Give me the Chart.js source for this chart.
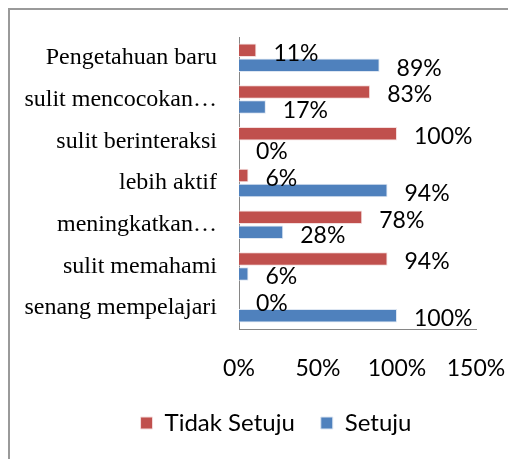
<!DOCTYPE html>
<html>
<head>
<meta charset="utf-8">
<script src="https://cdn.jsdelivr.net/npm/chart.js@4"></script>
<style>
  body { margin: 0; background: #fff; }
  #frame { position: absolute; left: 8px; top: 8px; width: 540px; height: 480px; border: 2px solid #9a9a9a; }
  #wrap { position: absolute; left: 0; top: 0; width: 508px; height: 459px; }
</style>
</head>
<body>
<div id="frame"></div>
<div id="wrap"><canvas id="chart"></canvas></div>
<script>
"use strict";
const categories = ["Pengetahuan baru", "sulit mencocokan…", "sulit berinteraksi", "lebih aktif",
    "meningkatkan…", "sulit memahami", "senang mempelajari"];
const tidakSetuju = [0.11, 0.83, 1.00, 0.06, 0.78, 0.94, 0.00];
const setuju = [0.89, 0.17, 0.00, 0.94, 0.28, 0.06, 1.00];
const xTicks = [0, 0.5, 1, 1.5];

const sansFont = "Lato, 'Liberation Sans', sans-serif";
const serifFont = "'Liberation Serif', 'DejaVu Serif', serif";

function pct(v) {
    return Math.round(v * 100) + "%";
}

// draws the value text next to each bar end
const valueLabels = {
    id: "valueLabels",
    afterDatasetsDraw(chart) {
        const ctx = chart.ctx;
        ctx.save();
        ctx.font = "23px " + sansFont;
        ctx.fillStyle = "#000";
        ctx.textAlign = "left";
        ctx.textBaseline = "middle";
        chart.data.datasets.forEach((ds, i) => {
            const meta = chart.getDatasetMeta(i);
            meta.data.forEach((bar, j) => {
                ctx.fillText(pct(ds.data[j]), bar.x + 17, bar.y + 3);
            });
        });
        ctx.restore();
    }
};

// the legend in the original sits a bit right of the canvas centre
const legendShift = {
    id: "legendShift",
    afterLayout(chart) {
        if (chart.legend) {
            chart.legend.left += 38;
            chart.legend.right += 38;
        }
    }
};

const ctx = document.getElementById("chart").getContext("2d");
const chart = new Chart(ctx, {
    type: "bar",
    data: {
        labels: categories,
        datasets: [{
            label: "Tidak Setuju",
            data: tidakSetuju,
            backgroundColor: "#C0504D",
            borderColor: "#f4dede",
            borderWidth: 1,
            barPercentage: 0.9,
            categoryPercentage: 0.72
        }, {
            label: "Setuju",
            data: setuju,
            backgroundColor: "#4F81BD",
            borderColor: "#dde6f2",
            borderWidth: 1,
            barPercentage: 0.9,
            categoryPercentage: 0.72
        }]
    },
    options: {
        indexAxis: "y",
        responsive: true,
        maintainAspectRatio: false,
        animation: false,
        layout: { padding: { left: 0, right: 32, top: 37, bottom: 14 } },
        plugins: {
            legend: {
                position: "bottom",
                labels: {
                    font: { family: sansFont, size: 24 },
                    color: "#000",
                    boxWidth: 12,
                    boxHeight: 12,
                    padding: 26
                }
            },
            tooltip: { enabled: false }
        },
        scales: {
            x: {
                min: 0,
                max: 1.5,
                afterBuildTicks: (axis) => axis.ticks = xTicks.map(v => ({ value: v })),
                afterFit: (scale) => {
                    scale.height = 56;
                    scale.paddingLeft = 0;
                    scale.paddingRight = 0;
                },
                grid: { display: false },
                border: { display: true, color: "#868686", width: 1 },
                ticks: {
                    padding: 18,
                    color: "#000",
                    font: { family: sansFont, size: 23 },
                    callback: (v) => pct(v)
                }
            },
            y: {
                afterFit: (scale) => { scale.width = 239; },
                grid: { display: false },
                border: { display: true, color: "#868686", width: 1 },
                ticks: {
                    padding: 14,
                    color: "#000",
                    autoSkip: false,
                    font: { family: serifFont, size: 24 }
                }
            }
        }
    },
    plugins: [valueLabels, legendShift]
});
</script>
</body>
</html>
